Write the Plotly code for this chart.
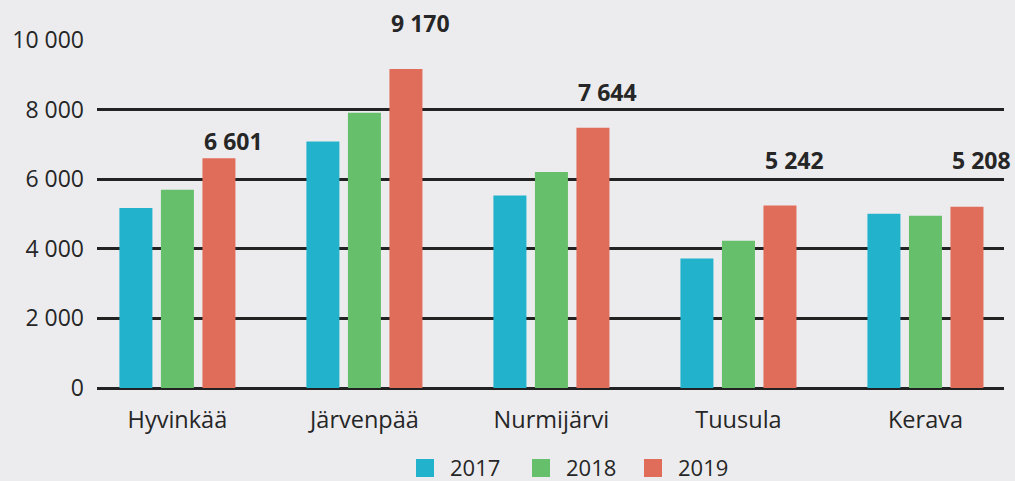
import plotly.graph_objects as go

# ---- data ----
categories = ["Hyvinkää", "Järvenpää", "Nurmijärvi", "Tuusula", "Kerava"]
years = ["2017", "2018", "2019"]
values_2017 = [5170, 7080, 5530, 3720, 5010]
values_2018 = [5700, 7910, 6210, 4230, 4950]
values_2019 = [6601, 9170, 7480, 5242, 5208]
label_values = [6601, 9170, 7644, 5242, 5208]
y_ticks = [0, 2000, 4000, 6000, 8000, 10000]

# ---- style ----
colors = ["#22B2CC", "#66BF6A", "#E06C5A"]
bg = "#ECECEF"
text_color = "#262626"
font_family = "Open Sans, Noto Sans, sans-serif"
y_max = 10000
label_heights = [7100, 10500, 8500, 6550, 6550]  # annotation placement (axis units)

W, H = 1015, 481
ML, MR, MT, MB = 97, 11, 40, 93
PW, PH = W - ML - MR, H - MT - MB


def fmt(v):
    return f"{v:,}".replace(",", " ")


fig = go.Figure()
series = [values_2017, values_2018, values_2019]
for name, vals, col in zip(years, series, colors):
    fig.add_trace(go.Bar(
        x=list(range(len(categories))), y=vals, name=name,
        marker=dict(color=col, line=dict(width=0)),
        showlegend=False, hoverinfo="y+name",
    ))

# value labels (bold) left-aligned over the 2019 bar
bargap = 0.334
bargroupgap = 0.205
slot = (1 - bargap) / 3
bar_w = slot * (1 - bargroupgap)
for i, (v, hgt) in enumerate(zip(label_values, label_heights)):
    left = i + slot - bar_w / 2
    fig.add_annotation(
        x=left, y=hgt / y_max, xref="x", yref="paper", text=fmt(v),
        showarrow=False, xanchor="left", yanchor="middle",
        font=dict(family=font_family, size=23, color=text_color, weight="bold"),
    )

# manual legend with 18px squares
def px_to_paper_x(px):
    return (px - ML) / PW


def px_to_paper_y(py):
    return (H - MB - py) / PH


legend_sq_x = [416, 532, 644]
legend_txt_x = [448, 564, 676]
for name, col, sx, tx in zip(years, colors, legend_sq_x, legend_txt_x):
    fig.add_shape(type="rect", xref="paper", yref="paper",
                  x0=px_to_paper_x(sx), x1=px_to_paper_x(sx + 18),
                  y0=px_to_paper_y(477), y1=px_to_paper_y(459),
                  fillcolor=col, line=dict(width=0), layer="above")
    fig.add_annotation(x=px_to_paper_x(tx), y=px_to_paper_y(467),
                       xref="paper", yref="paper", text=name, showarrow=False,
                       xanchor="left", yanchor="middle",
                       font=dict(family=font_family, size=22, color=text_color))

fig.update_layout(
    width=W, height=H,
    margin=dict(l=ML, r=MR, t=MT, b=MB, autoexpand=False),
    paper_bgcolor=bg, plot_bgcolor=bg,
    barmode="group", bargap=bargap, bargroupgap=bargroupgap,
    separators=", ",
    font=dict(family=font_family, size=23, color=text_color),
    showlegend=False,
)
fig.update_xaxes(
    range=[-0.43, 4.42], tickmode="array",
    tickvals=list(range(len(categories))), ticktext=categories,
    showgrid=False, zeroline=False, showline=False,
    ticks="outside", ticklen=11, tickcolor="rgba(0,0,0,0)",
    tickfont=dict(family=font_family, size=23.5, color=text_color),
)
fig.update_yaxes(
    range=[0, y_max], tickmode="array", tickvals=y_ticks,
    ticktext=[fmt(t) for t in y_ticks],
    showgrid=True, gridcolor="#222222", gridwidth=2.5,
    zeroline=True, zerolinecolor="#222222", zerolinewidth=3,
    showline=False, ticks="", ticklabelstandoff=12,
    tickfont=dict(family=font_family, size=23, color=text_color),
)

fig.write_html(
    "out.html",
    config={"displayModeBar": False},
    post_script="document.body.style.margin='0';document.body.style.overflow='hidden';",
)
